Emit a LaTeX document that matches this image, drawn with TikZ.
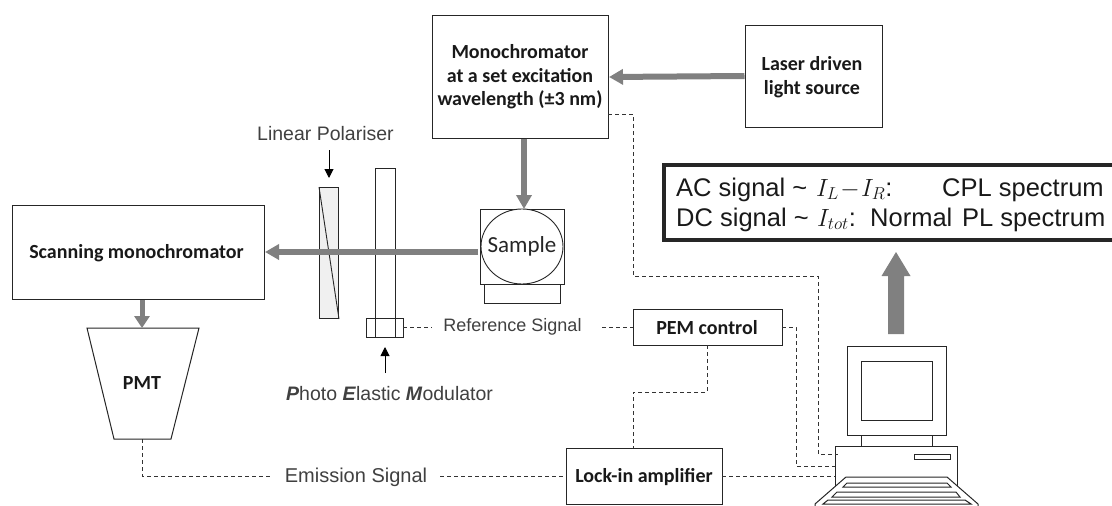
\documentclass[tikz,border=0pt]{standalone}
\usepackage{fontspec}
\usepackage{amsmath}
\setmainfont{Liberation Sans}
\newfontfamily\carl{Carlito}
\usetikzlibrary{arrows.meta,shapes.geometric}
\tikzset{
 box/.style={draw=black!85,line width=1pt,fill=white,inner sep=0pt},
 lbl/.style={font=\carl\bfseries\fontsize{20}{23.5}\selectfont,align=center,inner sep=0pt,text=black!90},
 sig/.style={font=\fontsize{19.5}{23}\selectfont,inner sep=0pt,text=black!75},
 res/.style={font=\fontsize{25.5}{30}\selectfont,inner sep=0pt,anchor=base west,text=black!90},
 dsh/.style={draw=black!80,line width=1pt,dash pattern=on 4pt off 3pt},
 beam/.style={draw=black!50,line width=6pt,-{Triangle[length=14pt,width=15pt]}},
 pointer/.style={draw=black,line width=1pt,-{Triangle[length=9pt,width=9pt]}},
 pc/.style={draw=black!85,line width=1pt,fill=white},
}
\begin{document}
\begin{tikzpicture}[x=1pt,y=-1pt]
\useasboundingbox (0,0) rectangle (1112,506);
% boxes
\node[box,minimum width=176pt,minimum height=123pt] (mono) at (520,76.5) {};
\node[lbl] (monot) at (520,77) {Monochromator\\at a set excitation\\wavelength (±3 nm)};
\node[box,minimum width=137pt,minimum height=102pt] (laser) at (813.5,76) {};
\node[lbl] (lasert) at (812,77) {Laser driven\\light source};
\node[box,minimum width=252pt,minimum height=94pt,anchor=north west] (scan) at (12,205) {};
\node[lbl] (scant) at (136.5,253) {Scanning monochromator};
\draw[box] (87,328)--(199,328)--(171,439)--(114,439)--cycle;
\coordinate (pmttop) at (142,328);
\coordinate (pmtbot) at (142,439);
\node[lbl] (pmtt) at (142,383) {PMT};
% sample
\node[box,minimum width=84pt,minimum height=75pt,anchor=north west] (cuv) at (480,209) {};
\node[box,minimum width=76pt,minimum height=19pt,anchor=north west] (hold) at (484,284) {};
\node[box,line width=.9pt,ellipse,minimum width=82pt,minimum height=75pt] (samp) at (522,246.5) {};
\node[font=\carl\fontsize{23}{26}\selectfont,text=black!85,inner sep=0pt] (sampt) at (522,246) {Sample};
% polariser and PEM
\node[box,fill=black!6,minimum width=19pt,minimum height=131pt,anchor=north west] (pol) at (319,187) {};
\draw[draw=black!85,line width=.9pt] (pol.north west)--(pol.south east);
\node[box,fill=none,minimum width=20pt,minimum height=169pt,anchor=north west] (pem) at (375,168) {};
\node[box,fill=none,minimum width=37pt,minimum height=19pt,anchor=north west] (pemb) at (366,318) {};
\coordinate (polA) at (329,150);
\coordinate (polB) at (329,178);
\coordinate (pemA) at (385,373);
\coordinate (pemB) at (385,347);
\draw[pointer] (polA)--(polB);
\draw[pointer] (pemA)--(pemB);
\node[sig,anchor=base] (poltxt) at (325.5,140) {Linear Polariser};
\node[sig,anchor=base west] (pemtxt) at (286,400) {\textbf{\textit{P}}hoto \textbf{\textit{E}}lastic \textbf{\textit{M}}odulator};
% control boxes
\node[box,minimum width=149pt,minimum height=36pt,anchor=north west] (ctrl) at (633,309) {};
\node[lbl] (ctrlt) at (707,328) {PEM control};
\node[box,minimum width=156pt,minimum height=56pt,anchor=north west] (lock) at (566,448) {};
\node[lbl] (lockt) at (644,477) {Lock-in amplifier};
\node[sig,font=\fontsize{18}{21}\selectfont] (reft) at (512.5,327) {Reference Signal};
\node[sig,font=\fontsize{20}{23}\selectfont] (emit) at (356,477) {Emission Signal};
% beams
\coordinate (b1) at (609,77);
\coordinate (b2) at (524,209);
\coordinate (b3a) at (478,252);
\coordinate (b3b) at (265,252);
\draw[beam] (laser.west)--(b1);
\draw[beam] (mono.south-|b2)--(b2);
\draw[beam] (b3a)--(b3b);
\draw[beam,line width=5pt,-{Triangle[length=12pt,width=15pt]}] (scan.south-|pmttop)--(pmttop);
% result
\draw[draw=black!85,line width=4pt] (1112,165)--(664,165)--(664,240)--(1112,240);
\node[res] (r1) at (676,196) {AC signal \char"7E};
\node[res] (r1m) at (816,196) {$I_{L}\mkern1mu{-}\mkern1mu I_{R}$:};
\node[res] (r1b) at (942,196) {CPL spectrum};
\node[res] (r2) at (676,226) {DC signal \char"7E};
\node[res] (r2m) at (817,226) {$I_{tot}$:};
\node[res] (r2b) at (870,226) {Normal};
\node[res] (r2c) at (962,226) {PL spectrum};
% computer
\draw[pc] (847,346) rectangle (946,435);
\draw[pc] (861,361) rectangle (932,420);
\draw[pc] (861,435)--(861,446) (932,435)--(932,446);
\draw[pc] (835,487)--(835,446)--(957,446)--(957,487);
\draw[pc] (914,454) rectangle (950,459);
\draw[pc] (815,506)--(815,504)--(846,477)--(947,477)--(978,504)--(978,506);
\draw[pc] (847,483)--(947,483)--(951,487)--(843,487)--cycle;
\draw[pc] (837,492)--(956,492)--(960,497)--(832,497)--cycle;
\draw[pc] (828,500)--(965,500)--(971,504)--(823,504)--cycle;
\coordinate (pcA) at (838,454);
\coordinate (pcB) at (835,466);
\coordinate (pcC) at (835,476);
\draw[draw=none,fill=black!50] (888,334)--(888,276)--(881.5,276)--(896,252)--(910.5,276)--(904,276)--(904,334)--cycle;
% signals
\coordinate (m1) at (608,114);
\coordinate (c1) at (782,327);
\coordinate (c2) at (707,345);
\coordinate (l1) at (633,448);
\coordinate (l2) at (722,476);
\coordinate (l3) at (566,476);
\coordinate (p1) at (403,327);
\coordinate (p2) at (633,327);
\coordinate (r1end) at (432,327);
\coordinate (r2start) at (602,327);
\coordinate (e1end) at (272,476);
\coordinate (e2start) at (440,476);
\draw[dsh] (m1)--(633,114)--(633,276)--(818,276)--(818,454)--(pcA);
\draw[dsh] (c1)--(796,327)--(796,466)--(pcB);
\draw[dsh] (l2)--(pcC);
\draw[dsh] (c2)--(707,392)--(633,392)--(l1);
\draw[dsh] (p1)--(r1end);
\draw[dsh] (r2start)--(p2);
\draw[dsh] (pmtbot)--(142,476)--(e1end);
\draw[dsh] (e2start)--(l3);
\end{tikzpicture}
\end{document}
